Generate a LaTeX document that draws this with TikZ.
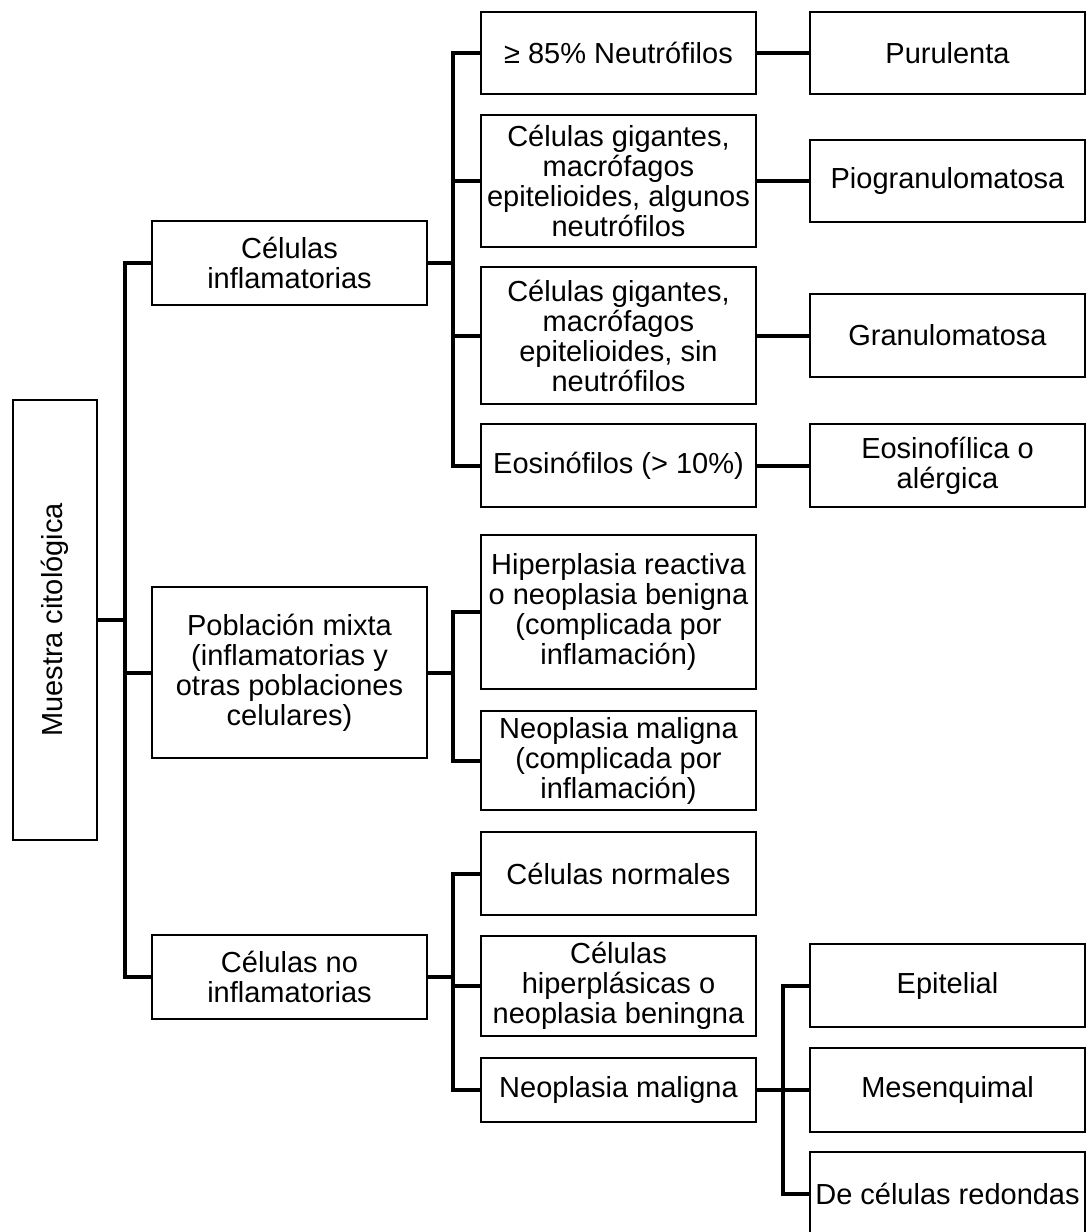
\documentclass[tikz,border=0pt]{standalone}
\usepackage{fontspec}
\setmainfont{Liberation Sans}
\begin{document}
\begin{tikzpicture}[x=1pt,y=-1pt,
  box/.style={draw=black, line width=2pt, fill=white, inner sep=0pt, align=center,
    minimum width=275pt, font=\fontsize{29}{30}\selectfont},
  conn/.style={draw=black, line width=4pt, line join=miter}]
\useasboundingbox (0,0) rectangle (1090,1232);
\clip (0,0) rectangle (1090,1232);
% root
\node[box, minimum width=84pt, minimum height=440pt] (root) at (55,620) {\rotatebox{90}{Muestra citológica}};
% level 1
\node[box, minimum height=84pt] (i1) at (289.5,263) {Células\\inflamatorias};
\node[box, minimum height=171pt] (i2) at (289.5,672.5) {Población mixta\\(inflamatorias y\\otras poblaciones\\celulares)};
\node[box, minimum height=84pt] (i3) at (289.5,977) {Células no\\inflamatorias};
% level 2
\node[box, minimum height=82pt] (a1) at (618.5,53) {≥ 85\% Neutrófilos};
\node[box, minimum height=132pt] (a2) at (618.5,181) {Células gigantes,\\macrófagos\\epitelioides, algunos\\neutrófilos};
\node[box, minimum height=137pt] (a3) at (618.5,335.5) {Células gigantes,\\macrófagos\\epitelioides, sin\\neutrófilos};
\node[box, minimum height=83pt] (a4) at (618.5,465.5) {Eosinófilos (> 10\%)};
\node[box, minimum height=154pt] (b1) at (618.5,612) {Hiperplasia reactiva\\o neoplasia benigna\\(complicada por\\inflamación)};
\node[box, minimum height=99pt] (b2) at (618.5,760.5) {Neoplasia maligna\\(complicada por\\inflamación)};
\node[box, minimum height=83pt] (c1) at (618.5,873.5) {Células normales};
\node[box, minimum height=100pt] (c2) at (618.5,986) {Células\\hiperplásicas o\\neoplasia beningna};
\node[box, minimum height=64pt] (c3) at (618.5,1090) {Neoplasia maligna};
% level 3
\node[box, minimum height=82pt] (p1) at (947.5,53) {Purulenta};
\node[box, minimum height=82pt] (p2) at (947.5,181) {Piogranulomatosa};
\node[box, minimum height=83pt] (p3) at (947.5,335.5) {Granulomatosa};
\node[box, minimum height=83pt] (p4) at (947.5,465.5) {Eosinofílica o\\alérgica};
\node[box, minimum height=83pt] (m1) at (947.5,985.5) {Epitelial};
\node[box, minimum height=84pt] (m2) at (947.5,1090) {Mesenquimal};
\node[box, minimum height=83pt] (m3) at (947.5,1193.5) {De células redondas};
% trunk coordinates
\coordinate (tr) at (125,620);
\coordinate (bx) at (453,0);
\coordinate (cx) at (783,0);
% root to level 1
\draw[conn] (root.east) -- (tr);
\draw[conn] (i1.west) -| (tr) |- (i3.west);
\draw[conn] (i2.west) -- (i2.west -| tr);
% inflamatorias branch
\draw[conn] (i1.east) -- (i1.east -| bx);
\draw[conn] (a1.west) -- (a1.west -| bx) -- (a4.west -| bx) -- (a4.west);
\draw[conn] (a2.west) -- (a2.west -| bx);
\draw[conn] (a3.west) -- (a3.west -| bx);
% mixta branch
\draw[conn] (i2.east) -- (i2.east -| bx);
\draw[conn] (b1.west) -- (b1.west -| bx) -- (b2.west -| bx) -- (b2.west);
% no inflamatorias branch
\draw[conn] (i3.east) -- (i3.east -| bx);
\draw[conn] (c1.west) -- (c1.west -| bx) -- (c3.west -| bx) -- (c3.west);
\draw[conn] (c2.west) -- (c2.west -| bx);
% level 2 to 3
\draw[conn] (a1.east) -- (p1.west);
\draw[conn] (a2.east) -- (p2.west);
\draw[conn] (a3.east) -- (p3.west);
\draw[conn] (a4.east) -- (p4.west);
% neoplasia maligna branch
\draw[conn] (c3.east) -- (c3.east -| cx);
\draw[conn] (m1.west) -- (m1.west -| cx) -- (m3.west -| cx) -- (m3.west);
\draw[conn] (m2.west) -- (m2.west -| cx);
\end{tikzpicture}
\end{document}
